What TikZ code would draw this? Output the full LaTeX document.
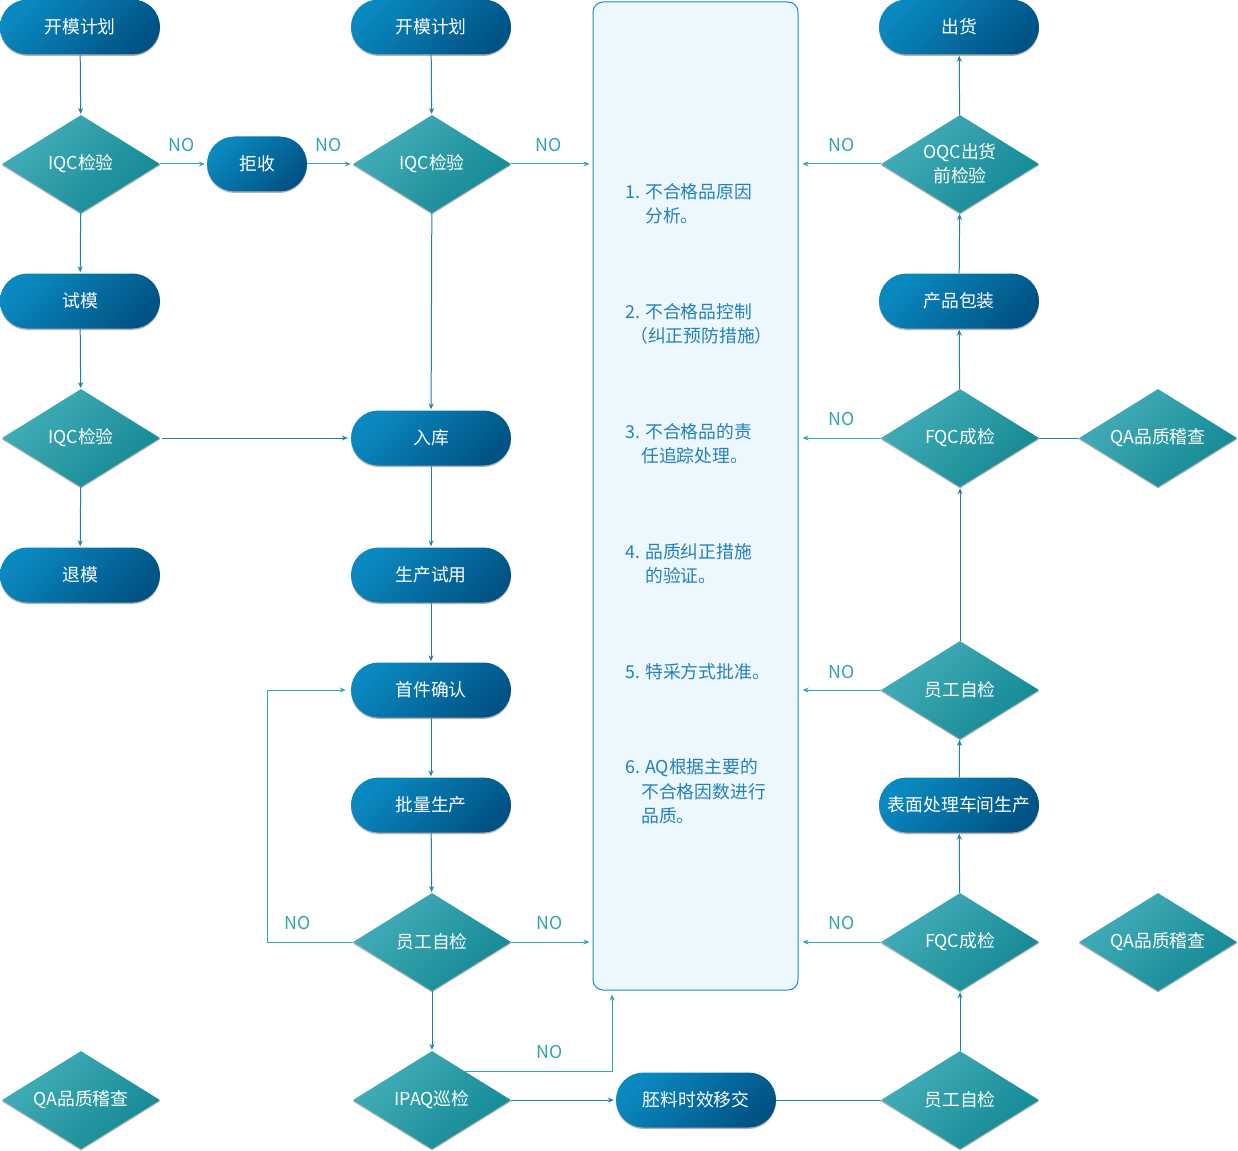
\documentclass[tikz,border=0pt]{standalone}
\usepackage{fontspec}
\setmainfont{Noto Sans CJK SC}
\usetikzlibrary{shapes.geometric,arrows.meta,shadows,calc}
\definecolor{pillA}{HTML}{0A89C0}
\definecolor{pillB}{HTML}{015385}
\definecolor{diaA}{HTML}{44AEB9}
\definecolor{diaB}{HTML}{138893}
\definecolor{lineB}{HTML}{1F80B3}
\definecolor{lineT}{HTML}{30A4B2}
\definecolor{boxfill}{HTML}{ECF8FE}
\definecolor{boxline}{HTML}{1A8CC0}
\definecolor{txtB}{HTML}{2580B8}
\begin{document}
\begin{tikzpicture}[x=1pt,y=-1pt,
  font=\fontsize{17.8}{24}\selectfont,
  pill/.style={rounded corners=27.5pt, minimum width=160pt, minimum height=55pt, inner sep=0pt,
    top color=pillA, bottom color=pillB, shading angle=45, text=white,
    drop shadow={shadow xshift=0pt, shadow yshift=-1.5pt, opacity=0.3, fill=black}},
  dia/.style={diamond, aspect=1.6, minimum width=158pt, minimum height=98pt, inner sep=0pt,
    top color=diaA, bottom color=diaB, shading angle=45, text=white, align=center,
    drop shadow={shadow xshift=0pt, shadow yshift=-1.5pt, opacity=0.3, fill=black}},
  barr/.style={draw=lineB, line width=1pt, -{Stealth[length=6pt,width=5pt]}, shorten >=1pt},
  bline/.style={draw=lineB, line width=1pt},
  tarr/.style={draw=lineT, line width=1pt, -{Stealth[length=6pt,width=5pt]}, shorten >=3pt},
  nolab/.style={text=lineT, inner sep=0pt},
  btxt/.style={text=txtB, anchor=west, inner sep=0pt}
]
\useasboundingbox (0,0) rectangle (1238,1150);

% big box
\node[draw=boxline, fill=boxfill, rounded corners=10pt, minimum width=205pt, minimum height=988pt, line width=1pt, inner sep=0pt] (box) at (695.5,496) {};

% box texts
\node[btxt] (t1a) at (625,192) {1. 不合格品原因};
\node[btxt] (t1b) at (645,216) {分析。};
\node[btxt] (t2a) at (625,312) {2. 不合格品控制};
\node[btxt] (t2b) at (630,336) {（纠正预防措施）};
\node[btxt] (t3a) at (625,432) {3. 不合格品的责};
\node[btxt] (t3b) at (641,456) {任追踪处理。};
\node[btxt] (t4a) at (625,552) {4. 品质纠正措施};
\node[btxt] (t4b) at (645,576) {的验证。};
\node[btxt] (t5a) at (625,672) {5. 特采方式批准。};
\node[btxt] (t6a) at (625,768) {6. AQ根据主要的};
\node[btxt] (t6b) at (641,792) {不合格因数进行};
\node[btxt] (t6c) at (641,816) {品质。};

% column 1
\node[pill] (km1) at (80,27) {开模计划};
\node[dia] (iq1) at (81,164) {IQC检验};
\node[pill] (js) at (257,164) [minimum width=100pt] {拒收};
\node[pill] (sm) at (80,301) {试模};
\node[dia] (iq3) at (81,438) {IQC检验};
\node[pill] (tm) at (80,575) {退模};
\node[dia] (qa3) at (81,1100) {QA品质稽查};

% column 2
\node[pill] (km2) at (431,27) {开模计划};
\node[dia] (iq2) at (432,164) {IQC检验};
\node[pill] (rk) at (431,438) {入库};
\node[pill] (sc) at (431,575) {生产试用};
\node[pill] (sj) at (431,690) {首件确认};
\node[pill] (pl) at (431,805) {批量生产};
\node[dia] (ew1) at (432,942) {员工自检};
\node[dia] (ipaq) at (432,1100) {IPAQ巡检};
\node[pill] (pei) at (696,1100) {胚料时效移交};

% column right
\node[pill] (ch) at (959,27) {出货};
\node[dia] (oqc) at (960,164) {OQC出货\\前检验};
\node[pill] (bz) at (959,301) {产品包装};
\node[dia] (fqc1) at (960,438) {FQC成检};
\node[dia] (qa1) at (1158,438) {QA品质稽查};
\node[dia] (ew2) at (960,690) {员工自检};
\node[pill] (bm) at (959,805) {表面处理车间生产};
\node[dia] (fqc2) at (960,942) {FQC成检};
\node[dia] (qa2) at (1158,942) {QA品质稽查};
\node[dia] (ew3) at (960,1100) {员工自检};

% connectors column 1
\draw[barr] (km1) -- (iq1);
\draw[barr] (iq1) -- (sm);
\draw[barr] (sm) -- (iq3);
\draw[barr] (iq3) -- (tm);
\draw[barr, shorten >=3pt, shorten <=2pt] (iq3.east) -- (rk.west);
\draw[tarr, shorten >=2pt] (iq1.east) -- (js.west);
\node[nolab] (no1) at (182,145) {NO};
\draw[tarr, shorten >=2pt] (js.east) -- (iq2.west);
\node[nolab] (no2) at (329,145) {NO};

% column 2
\draw[barr] (km2) -- (iq2);
\draw[barr] (iq2) -- (rk);
\draw[barr] (rk) -- (sc);
\draw[barr] (sc) -- (sj);
\draw[barr] (sj) -- (pl);
\draw[barr] (pl) -- (ew1);
\draw[barr] (ew1) -- (ipaq);
\draw[tarr] (iq2.east) -- (iq2.east -| box.west);
\node[nolab] (no3) at (549,145) {NO};
\draw[tarr, shorten >=5pt] (ew1.west) -- ++(-85,0) |- (sj.west);
\node[nolab] (no4) at (298,923) {NO};
\draw[tarr] (ew1.east) -- (ew1.east -| box.west);
\node[nolab] (no5) at (550,923) {NO};
\coordinate (ipst) at ($(ipaq.north)!0.42!(ipaq.east)$);
\draw[tarr, shorten >=4pt] (ipst) -- (ipst -| 612,0) coordinate (ipc) -- (ipc |- box.south);
\node[nolab] (no6) at (550,1052) {NO};
\draw[barr, shorten >=2pt] (ipaq.east) -- (pei.west);
\draw[bline] (pei.east) -- (ew3.west);

% right column
\draw[barr] (ew3) -- (fqc2);
\draw[barr] (fqc2) -- (bm);
\draw[barr] (bm) -- (ew2);
\draw[barr] (ew2) -- (fqc1);
\draw[barr] (fqc1) -- (bz);
\draw[barr] (bz) -- (oqc);
\draw[barr] (oqc) -- (ch);
\draw[bline] (fqc1.east) -- (qa1.west);
\draw[tarr, shorten >=4pt] (oqc.west) -- (oqc.west -| box.east);
\node[nolab] (no7) at (842,145) {NO};
\draw[tarr, shorten >=4pt] (fqc1.west) -- (fqc1.west -| box.east);
\node[nolab] (no8) at (842,419) {NO};
\draw[tarr, shorten >=4pt] (ew2.west) -- (ew2.west -| box.east);
\node[nolab] (no9) at (842,672) {NO};
\draw[tarr, shorten >=4pt] (fqc2.west) -- (fqc2.west -| box.east);
\node[nolab] (no10) at (842,923) {NO};
\end{tikzpicture}
\end{document}
